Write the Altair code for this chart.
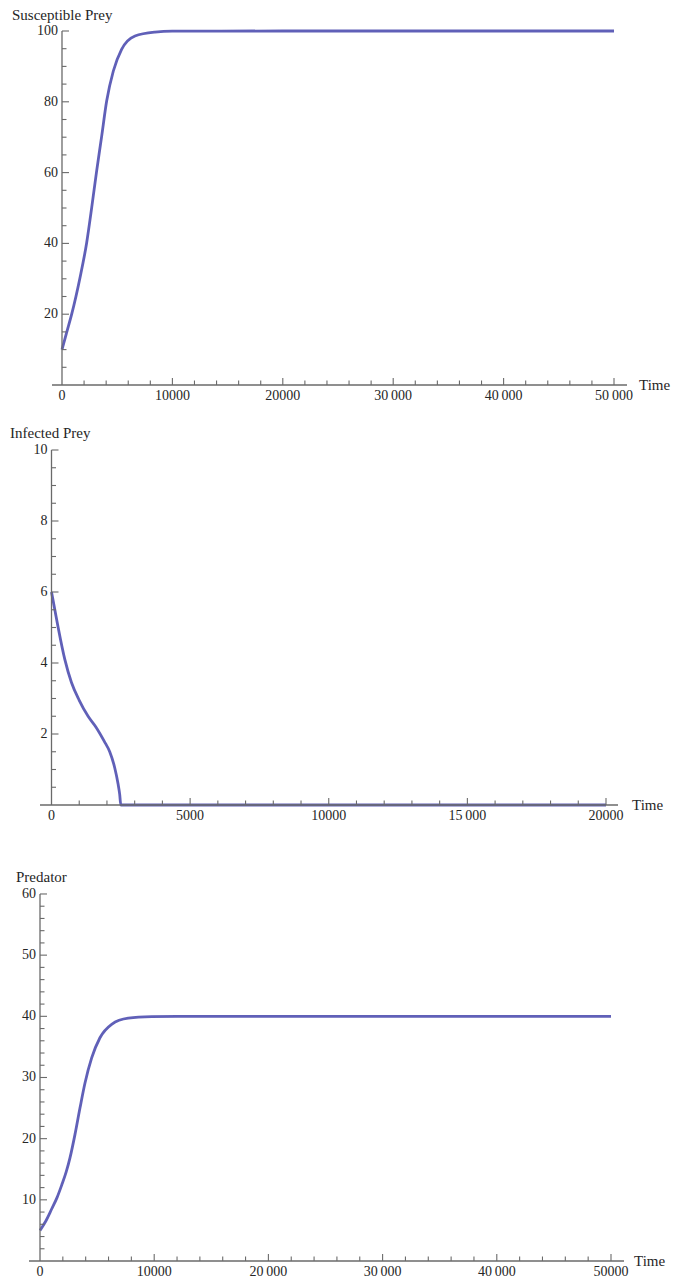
import altair as alt
import pandas as pd

# ---------------- data ----------------
# Susceptible prey
s_t = [0, 400, 878, 1630, 2235, 2690, 3140, 3595, 4045, 4650, 5400, 6610, 8420,
       10000, 20000, 30000, 40000, 50000]
s_v = [10, 14.6, 20, 30.3, 40.2, 50.1, 60.5, 70.3, 80.2, 88.7, 94.8, 98.6, 99.7,
       99.95, 100, 100, 100, 100]

# Infected prey
i_t = [0, 120, 240, 480, 720, 1000, 1320, 1600, 1900, 2100, 2280, 2400, 2460, 2500,
       3000, 5000, 10000, 15000, 20000]
i_v = [6, 5.5, 5.0, 4.1, 3.45, 2.95, 2.5, 2.2, 1.8, 1.5, 1.05, 0.6, 0.3, 0,
       0, 0, 0, 0, 0]

# Predator
p_t = [0, 500, 1020, 1500, 1900, 2300, 2630, 3065, 3500, 3940, 4525, 5250, 6275,
       7730, 9780, 12000, 20000, 30000, 40000, 50000]
p_v = [5, 6.5, 8.5, 10.4, 12.4, 14.6, 16.9, 20.7, 25, 29.1, 33.2, 36.5, 38.7,
       39.7, 39.95, 40, 40, 40, 40, 40]

# axis ticks and labels
s_xlab_vals = [0, 10000, 20000, 30000, 40000, 50000]
s_xlab_text = ["0", "10000", "20000", "30\u2009000", "40\u2009000", "50\u2009000"]
s_xmajor = [10000, 20000, 30000, 40000, 50000]
s_xminor = [v for v in range(2000, 50001, 2000) if v % 10000]
s_ymajor = [20, 40, 60, 80, 100]
s_ymajor_text = ["20", "40", "60", "80", "100"]
s_yminor = [v for v in range(5, 101, 5) if v % 20]

i_xlab_vals = [0, 5000, 10000, 15000, 20000]
i_xlab_text = ["0", "5000", "10000", "15\u2009000", "20000"]
i_xmajor = [5000, 10000, 15000, 20000]
i_xminor = [v for v in range(1000, 20001, 1000) if v % 5000]
i_ymajor = [2, 4, 6, 8, 10]
i_ymajor_text = ["2", "4", "6", "8", "10"]
i_yminor = [v / 2 for v in range(1, 21) if v % 4]

p_xlab_vals = [0, 10000, 20000, 30000, 40000, 50000]
p_xlab_text = ["0", "10000", "20\u2009000", "30\u2009000", "40\u2009000", "50000"]
p_xmajor = [10000, 20000, 30000, 40000, 50000]
p_xminor = [v for v in range(2000, 50001, 2000) if v % 10000]
p_ymajor = [10, 20, 30, 40, 50, 60]
p_ymajor_text = ["10", "20", "30", "40", "50", "60"]
p_yminor = [v for v in range(2, 61, 2) if v % 10]

# ---------------- styling ----------------
FONT = "Liberation Serif"
AXIS_COLOR = "#6a6a6a"
TEXT_COLOR = "#262626"
LINE_COLOR = "#5252b2"
PLOT_W = 624


def panel(t, v, xdom, ydom, height, x_ext, y_max,
          xlab_vals, xlab_text, xmajor, xminor, ymajor, ymajor_text, yminor,
          ytitle, ytitle_dx, ytitle_dy, time_dx):
    xs = alt.Scale(domain=xdom, nice=False, zero=False)
    ys = alt.Scale(domain=ydom, nice=False, zero=False)

    def X(field):
        return alt.X(field, scale=xs, axis=None)

    def Y(field):
        return alt.Y(field, scale=ys, axis=None)

    x_zero = alt.XDatum(0, axis=None)
    y_zero = alt.YDatum(0, axis=None)

    curve = alt.Chart(pd.DataFrame({"t": t, "v": v})).mark_line(
        color=LINE_COLOR, strokeWidth=2.8, interpolate="monotone", opacity=0.92
    ).encode(x=X("t:Q"), y=Y("v:Q"))

    xline = alt.Chart(pd.DataFrame({"a": [x_ext[0]], "b": [x_ext[1]]})).mark_rule(
        color=AXIS_COLOR, strokeWidth=1.3
    ).encode(x=X("a:Q"), x2="b:Q", y=y_zero)

    yline = alt.Chart(pd.DataFrame({"a": [0], "b": [y_max]})).mark_rule(
        color=AXIS_COLOR, strokeWidth=1.3
    ).encode(y=Y("a:Q"), y2="b:Q", x=x_zero)

    def xticks(vals, size):
        return alt.Chart(pd.DataFrame({"t": vals})).mark_tick(
            orient="vertical", size=size, thickness=1.1, color=AXIS_COLOR,
            opacity=1, yOffset=-size / 2
        ).encode(x=X("t:Q"), y=y_zero)

    def yticks(vals, size):
        return alt.Chart(pd.DataFrame({"v": vals})).mark_tick(
            orient="horizontal", size=size, thickness=1.1, color=AXIS_COLOR,
            opacity=1, xOffset=size / 2
        ).encode(y=Y("v:Q"), x=x_zero)

    xlabels = alt.Chart(pd.DataFrame({"t": xlab_vals, "lab": xlab_text})).mark_text(
        font=FONT, fontSize=14, color=TEXT_COLOR, align="center",
        baseline="top", dy=4
    ).encode(x=X("t:Q"), y=y_zero, text="lab:N")

    ylabels = alt.Chart(pd.DataFrame({"v": ymajor, "lab": ymajor_text})).mark_text(
        font=FONT, fontSize=14, color=TEXT_COLOR, align="right",
        baseline="middle", dx=-4
    ).encode(x=x_zero, y=Y("v:Q"), text="lab:N")

    ytitle_mark = alt.Chart(pd.DataFrame({"lab": [ytitle]})).mark_text(
        font=FONT, fontSize=15, color=TEXT_COLOR, align="left",
        baseline="middle", dx=ytitle_dx, dy=ytitle_dy
    ).encode(x=x_zero, y=alt.YDatum(y_max, axis=None), text="lab:N")

    time_mark = alt.Chart(pd.DataFrame({"lab": ["Time"]})).mark_text(
        font=FONT, fontSize=15, color=TEXT_COLOR, align="left",
        baseline="middle", dx=time_dx
    ).encode(x=alt.XDatum(x_ext[1], axis=None), y=y_zero, text="lab:N")

    return alt.layer(
        curve, xline, yline,
        xticks(xmajor, 7), xticks(xminor, 4.5),
        yticks(ymajor, 7), yticks(yminor, 4.5),
        xlabels, ylabels, ytitle_mark, time_mark,
    ).properties(width=PLOT_W, height=height)


p1 = panel(s_t, s_v, [-4891, 51630], [0, 100], 354, [-906, 51178], 100,
           s_xlab_vals, s_xlab_text, s_xmajor, s_xminor, s_ymajor, s_ymajor_text,
           s_yminor, "Susceptible Prey", -50, -16, 12)
p2 = panel(i_t, i_v, [-1569, 20938], [0, 10], 355, [-415, 20433], 10,
           i_xlab_vals, i_xlab_text, i_xmajor, i_xminor, i_ymajor, i_ymajor_text,
           i_yminor, "Infected Prey", -41.5, -17, 14)
p3 = panel(p_t, p_v, [-2802, 51839], [0, 63.92], 391, [-963, 51138], 60,
           p_xlab_vals, p_xlab_text, p_xmajor, p_xminor, p_ymajor, p_ymajor_text,
           p_yminor, "Predator", -24, -17, 10)

chart = alt.vconcat(p1, p2, p3, spacing=65, bounds="flush").properties(
    padding={"left": 0, "top": 0, "right": 5, "bottom": 5}
).configure(background="white").configure_view(stroke=None)

chart.save("out.html", embed_options={"renderer": "svg", "actions": False})
